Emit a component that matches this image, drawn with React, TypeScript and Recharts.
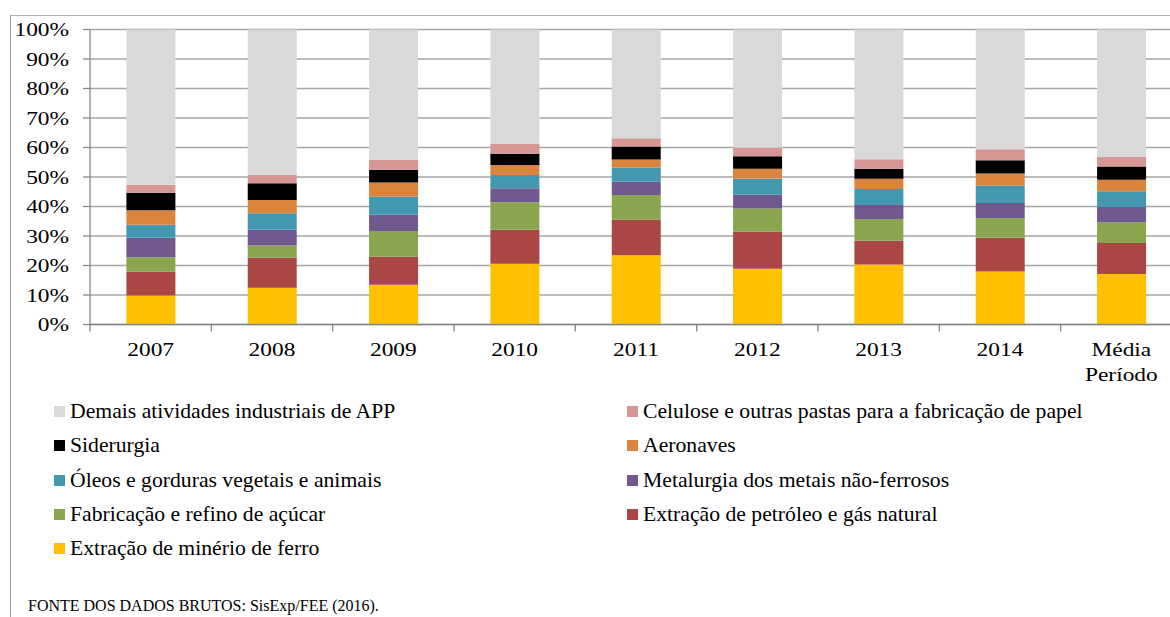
import React from 'react';
import { BarChart, Bar, XAxis, YAxis, CartesianGrid } from 'recharts';

const categories = ['2007', '2008', '2009', '2010', '2011', '2012', '2013', '2014', 'Média Período'];

const minerioFerro = [9.8, 12.5, 13.5, 20.6, 23.5, 18.9, 20.3, 18.0, 17.1];
const petroleoGas = [8.1, 10.1, 9.5, 11.5, 12.0, 12.5, 8.1, 11.4, 10.5];
const acucar = [4.9, 4.2, 8.7, 9.3, 8.4, 7.9, 7.4, 6.7, 7.1];
const naoFerrosos = [6.6, 5.3, 5.5, 4.8, 4.5, 4.7, 4.7, 5.1, 5.1];
const oleos = [4.4, 5.6, 6.1, 4.5, 4.8, 5.4, 5.4, 5.9, 5.4];
const aeronaves = [4.9, 4.5, 4.8, 3.4, 2.7, 3.4, 3.5, 4.1, 3.9];
const siderurgia = [6.0, 5.7, 4.4, 3.8, 4.4, 4.2, 3.4, 4.5, 4.5];
const celulose = [2.7, 2.8, 3.3, 3.4, 2.8, 2.9, 3.2, 3.7, 3.2];
const demais = [52.6, 49.3, 44.2, 38.7, 36.9, 40.1, 44.0, 40.6, 43.2];

const yTicks = [0, 10, 20, 30, 40, 50, 60, 70, 80, 90, 100];

// stack order: bottom -> top
const series = [
  { key: 'minerio', name: 'Extração de minério de ferro', color: '#FFC000', values: minerioFerro },
  { key: 'petroleo', name: 'Extração de petróleo e gás natural', color: '#AA4643', values: petroleoGas },
  { key: 'acucar', name: 'Fabricação e refino de açúcar', color: '#89A54E', values: acucar },
  { key: 'naoFerrosos', name: 'Metalurgia dos metais não-ferrosos', color: '#71588F', values: naoFerrosos },
  { key: 'oleos', name: 'Óleos e gorduras vegetais e animais', color: '#4198AF', values: oleos },
  { key: 'aeronaves', name: 'Aeronaves', color: '#DB843D', values: aeronaves },
  { key: 'siderurgia', name: 'Siderurgia', color: '#000000', values: siderurgia },
  { key: 'celulose', name: 'Celulose e outras pastas para a fabricação de papel', color: '#D59694', values: celulose },
  { key: 'demais', name: 'Demais atividades industriais de APP', color: '#D9D9D9', values: demais },
];

const data = categories.map((c, i) => {
  const row: Record<string, any> = { name: c };
  series.forEach((s) => {
    row[s.key] = s.values[i];
  });
  return row;
});

const FONT = "'Liberation Serif', 'Times New Roman', serif";
const AXIS_COLOR = '#888888';

const YTick = (props: any) => {
  const { x, y, payload } = props;
  return (
    <text
      transform={`translate(${x},${y + 6.5}) scale(1.2,1)`}
      textAnchor="end"
      fontSize={19.5}
      fontFamily={FONT}
      fill="#000"
    >
      {`${payload.value}%`}
    </text>
  );
};

const XTick = (props: any) => {
  const { x, y, payload, index, width } = props;
  const band = (width || 1092) / categories.length;
  const lines = String(payload.value).split(' ');
  return (
    <g>
      <line x1={x - band / 2} x2={x - band / 2} y1={y} y2={y + 7} stroke={AXIS_COLOR} strokeWidth={1.3} />
      {index === categories.length - 1 && (
        <line x1={x + band / 2} x2={x + band / 2} y1={y} y2={y + 7} stroke={AXIS_COLOR} strokeWidth={1.3} />
      )}
      {lines.map((l, i) => (
        <text
          key={i}
          transform={`translate(${x},${y + 31 + i * 25}) scale(1.2,1)`}
          textAnchor="middle"
          fontSize={19.5}
          fontFamily={FONT}
          fill="#000"
        >
          {l}
        </text>
      ))}
    </g>
  );
};

// legend layout (reverse of stack order, two columns row-wise)
const legendOrder = [...series].reverse();
const legendRowsY = [411.5, 445.8, 480.1, 514.4, 548.7];
const legendColsX = [54, 627];

export default function App() {
  return (
    <div
      style={{
        position: 'fixed',
        left: 0,
        top: 0,
        width: 1170,
        height: 617,
        overflow: 'hidden',
        background: '#fff',
        fontFamily: FONT,
      }}
    >
      <div
        style={{
          position: 'absolute',
          left: 10,
          top: 15,
          width: 2000,
          height: 1000,
          borderLeft: '1.3px solid #9a9a9a',
          borderTop: '1.3px solid #b0b0b0',
        }}
      />
      <div style={{ position: 'absolute', left: 0, top: 0 }}>
        <BarChart
          width={1182}
          height={400}
          data={data}
          margin={{ top: 29.5, right: 0, bottom: 0, left: 0 }}
          barCategoryGap="30%"
        >
          <CartesianGrid vertical={false} stroke="#a6a6a6" strokeWidth={1.3} />
          <XAxis
            dataKey="name"
            height={75.5}
            interval={0}
            axisLine={{ stroke: AXIS_COLOR, strokeWidth: 1.3 }}
            tickLine={false}
            tickSize={0}
            tickMargin={0}
            tick={<XTick />}
          />
          <YAxis
            width={90}
            domain={[0, 100]}
            ticks={yTicks}
            interval={0}
            axisLine={{ stroke: AXIS_COLOR, strokeWidth: 1.3 }}
            tickLine={{ stroke: AXIS_COLOR, strokeWidth: 1.3 }}
            tickSize={7}
            tickMargin={14}
            tick={<YTick />}
          />
          {series.map((s) => (
            <Bar
              key={s.key}
              dataKey={s.key}
              name={s.name}
              stackId="a"
              fill={s.color}
              isAnimationActive={false}
            />
          ))}
        </BarChart>
      </div>
      {legendOrder.map((s, i) => {
        const row = Math.floor(i / 2);
        const col = i % 2;
        return (
          <div
            key={s.key}
            style={{
              position: 'absolute',
              left: legendColsX[col],
              top: legendRowsY[row] - 13,
              height: 26,
              display: 'flex',
              alignItems: 'center',
              whiteSpace: 'nowrap',
              fontSize: 21.7,
              color: '#000',
            }}
          >
            <span
              style={{
                display: 'inline-block',
                width: 11,
                height: 11,
                background: s.color,
                marginRight: 5,
              }}
            />
            <span>{s.name}</span>
          </div>
        );
      })}
      <div
        style={{
          position: 'absolute',
          left: 28,
          top: 597,
          fontSize: 16,
          lineHeight: '18px',
          color: '#000',
          whiteSpace: 'nowrap',
        }}
      >
        FONTE DOS DADOS BRUTOS: SisExp/FEE (2016).
      </div>
    </div>
  );
}
